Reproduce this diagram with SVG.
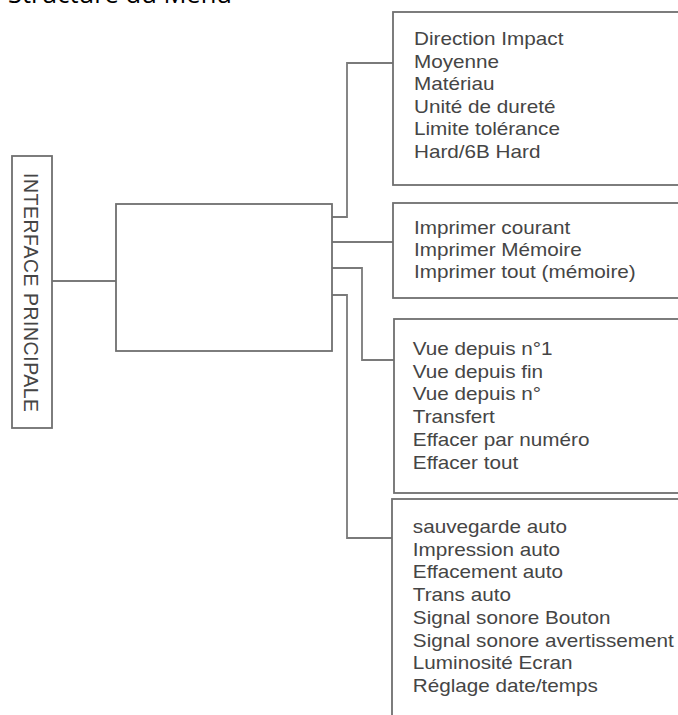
<svg xmlns="http://www.w3.org/2000/svg" width="678" height="715" viewBox="0 0 678 715">
<style>
.box{fill:#ffffff;stroke:#6f6f6f;stroke-width:1.8}
.conn{fill:none;stroke:#7a7a7a;stroke-width:1.8}
.lbl{font-family:"Liberation Sans",Arial,sans-serif;font-size:18px;fill:#454545}
.title{font-family:"Open Sans","Liberation Sans",sans-serif;font-size:26px;fill:#000000}
</style>
<rect width="678" height="715" fill="#ffffff"/>
<text class="title" x="8" y="3" textLength="224" lengthAdjust="spacingAndGlyphs">Structure du Menu</text>

<g id="connectors">
<path class="conn" d="M52,281 H116"/>
<path class="conn" d="M332,217 H347 V63 H393"/>
<path class="conn" d="M332,242 H393"/>
<path class="conn" d="M332,268 H362 V360 H394"/>
<path class="conn" d="M332,295 H347 V538 H392"/>
</g>

<g id="interface-principale">
<rect class="box" x="12" y="156" width="40" height="272"/>
<text class="lbl" transform="translate(24,173) rotate(90)" style="font-size:19.4px" textLength="239">INTERFACE PRINCIPALE</text>
</g>

<g id="menu-principal">
<rect class="box" x="116" y="204" width="216" height="147"/>
</g>

<g id="reglages-mesure">
<rect class="box" x="393" y="12" width="300" height="173"/>
<g transform="scale(1.15,1)">
<text class="lbl" x="360" y="45.5">Direction Impact</text>
<text class="lbl" x="360" y="68">Moyenne</text>
<text class="lbl" x="360" y="90.5">Matériau</text>
<text class="lbl" x="360" y="113">Unité de dureté</text>
<text class="lbl" x="360" y="135.5">Limite tolérance</text>
<text class="lbl" x="360" y="158">Hard/6B Hard</text>
</g>
</g>

<g id="impression">
<rect class="box" x="393" y="203" width="300" height="95"/>
<g transform="scale(1.15,1)">
<text class="lbl" x="360" y="234.5">Imprimer courant</text>
<text class="lbl" x="360" y="256.5">Imprimer Mémoire</text>
<text class="lbl" x="360" y="278.5">Imprimer tout (mémoire)</text>
</g>
</g>

<g id="memoire">
<rect class="box" x="394" y="319" width="300" height="174"/>
<g transform="scale(1.15,1)">
<text class="lbl" x="359" y="355.5">Vue depuis n°1</text>
<text class="lbl" x="359" y="378">Vue depuis fin</text>
<text class="lbl" x="359" y="400">Vue depuis n°</text>
<text class="lbl" x="359" y="423">Transfert</text>
<text class="lbl" x="359" y="446">Effacer par numéro</text>
<text class="lbl" x="359" y="469">Effacer tout</text>
</g>
</g>

<g id="systeme">
<rect class="box" x="392" y="499" width="300" height="300"/>
<g transform="scale(1.15,1)">
<text class="lbl" x="359" y="533.5">sauvegarde auto</text>
<text class="lbl" x="359" y="556">Impression auto</text>
<text class="lbl" x="359" y="578.5">Effacement auto</text>
<text class="lbl" x="359" y="601">Trans auto</text>
<text class="lbl" x="359" y="624">Signal sonore Bouton</text>
<text class="lbl" x="359" y="647">Signal sonore avertissement</text>
<text class="lbl" x="359" y="669.5">Luminosité Ecran</text>
<text class="lbl" x="359" y="692">Réglage date/temps</text>
</g>
</g>
</svg>
